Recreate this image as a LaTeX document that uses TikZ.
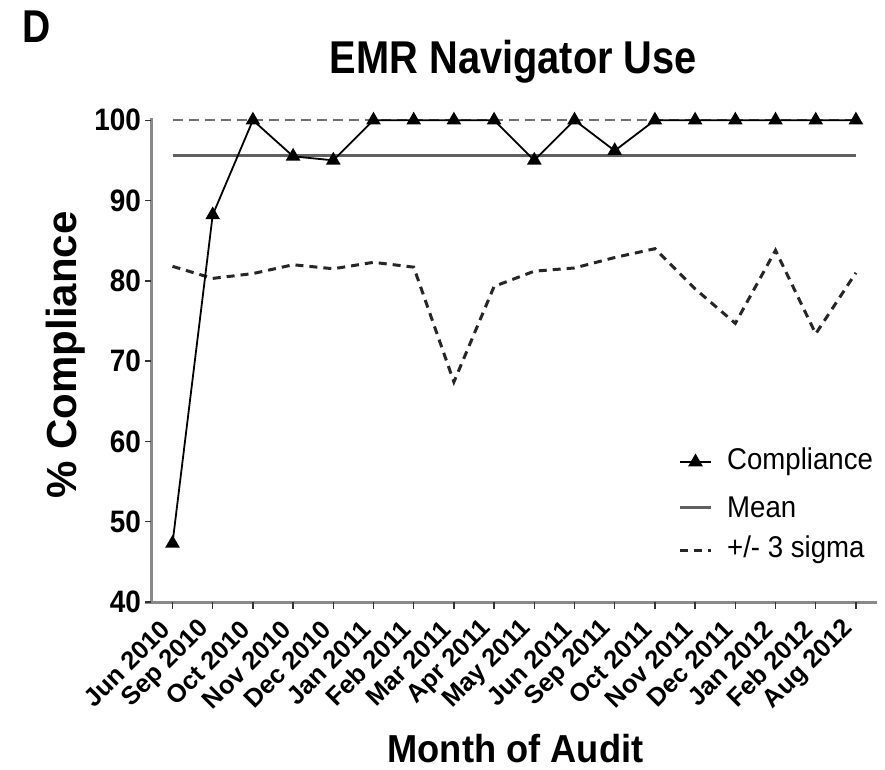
\documentclass[tikz,border=0pt]{standalone}
\usepackage{fontspec}
\setmainfont{Liberation Sans}
\usetikzlibrary{shapes.geometric}
\definecolor{axisgray}{HTML}{8A8A8A}
\definecolor{meangray}{HTML}{606060}
\definecolor{upgray}{HTML}{707070}
\begin{document}
\begin{tikzpicture}[x=1pt,y=-1pt,
  axisline/.style={draw=axisgray,line width=3pt},
  tickline/.style={draw=black!80,line width=1.4pt},
  compline/.style={draw=black,line width=1.8pt},
  meanline/.style={draw=meangray,line width=3pt},
  upline/.style={draw=upgray,line width=2pt,dash pattern=on 10pt off 6pt},
  sigmaline/.style={draw=black!85,line width=3pt,dash pattern=on 8pt off 6pt},
  tri/.style={regular polygon,regular polygon sides=3,fill=black,draw=none,minimum size=17pt,inner sep=0pt},
  ylab/.style={anchor=east,inner sep=0pt,font=\bfseries\fontsize{31}{33}\selectfont,xscale=0.9},
  xlab/.style={anchor=east,inner sep=0pt,rotate=45,font=\bfseries\fontsize{25.5}{27}\selectfont},
  legtext/.style={anchor=west,inner sep=0pt,font=\fontsize{30}{32}\selectfont,xscale=0.92}
]
\useasboundingbox (0,0) rectangle (885,769);

% panel letter and title
\node[anchor=base west,inner sep=0pt,font=\bfseries\fontsize{46}{48}\selectfont,xscale=0.85] (panel) at (22,42) {D};
\node[anchor=base,inner sep=0pt,font=\bfseries\fontsize{46}{48}\selectfont,xscale=0.865] (title) at (513.5,73) {EMR Navigator Use};

% axes
\coordinate (ytop) at (151,118);
\coordinate (ybot) at (151,602);
\coordinate (xstart) at (145,602);
\coordinate (xend) at (877,602);
\draw[axisline] (ytop) -- (ybot);
\draw[axisline] (xstart) -- (xend);

% y ticks and labels
\foreach \v in {40,50,...,100} {
  \coordinate (yt\v) at (151,{602-8.03*(\v-40)});
  \draw[tickline] (yt\v) -- ++(-6,0);
  \node[ylab] (yl\v) at (141,{602-8.03*(\v-40)}) {\v};
}

% x ticks and labels
\foreach \m [count=\i] in {Jun 2010,Sep 2010,Oct 2010,Nov 2010,Dec 2010,Jan 2011,Feb 2011,Mar 2011,Apr 2011,May 2011,Jun 2011,Sep 2011,Oct 2011,Nov 2011,Dec 2011,Jan 2012,Feb 2012,Aug 2012} {
  \coordinate (xt\i) at ({172.5+40.2*(\i-1)},602);
  \draw[tickline] (xt\i) -- ++(0,7);
  \node[xlab] (xl\i) at ({172.5+40.2*(\i-1)-7},625) {\m};
}

% axis titles
\node[anchor=base,inner sep=0pt,font=\bfseries\fontsize{39}{41}\selectfont,xscale=0.93] (xtitle) at (515.5,762) {Month of Audit};
\node[anchor=base,inner sep=0pt,rotate=90,font=\bfseries\fontsize{42}{44}\selectfont] (ytitle) at (76.5,355) {\% Compliance};

% upper limit (dashed, at 100)
\coordinate (u0) at (172.5,120);
\coordinate (u1) at (856,120);
\draw[upline] (u0) -- (u1);

% mean
\coordinate (m0) at (172.5,155);
\coordinate (m1) at (856,155);
\draw[meanline] (m0) -- (m1);

% lower limit
\foreach \v [count=\i] in {81.8,80.3,80.9,82.0,81.5,82.3,81.7,67.4,79.3,81.2,81.6,82.9,84.0,79.0,74.7,83.8,73.4,81.0} {
  \coordinate (l\i) at ({172.5+40.2*(\i-1)},{602-8.03*(\v-40)});
}
\draw[sigmaline] (l1) \foreach \i in {2,...,18} { -- (l\i) };

% compliance
\foreach \v [count=\i] in {47.3,88.2,100,95.5,95.0,100,100,100,100,95.0,100,96.2,100,100,100,100,100,100} {
  \coordinate (c\i) at ({172.5+40.2*(\i-1)},{602-8.03*(\v-40)});
}
\draw[compline] (c1) \foreach \i in {2,...,18} { -- (c\i) };
\foreach \i in {1,...,18} { \node[tri] (p\i) at (c\i) {}; }

% legend
\coordinate (la0) at (680,462);
\coordinate (la1) at (711,462);
\draw[compline] (la0) -- (la1);
\node[tri] (lam) at (695.5,462) {};
\node[legtext] (lat) at (727,462) {Compliance};
\coordinate (lb0) at (680,507);
\coordinate (lb1) at (711,507);
\draw[meanline] (lb0) -- (lb1);
\node[legtext] (lbt) at (727,507) {Mean};
\coordinate (lc0) at (680,550);
\coordinate (lc1) at (711,550);
\draw[sigmaline] (lc0) -- (lc1);
\node[legtext] (lct) at (727,550) {+/- 3 sigma};
\end{tikzpicture}
\end{document}
